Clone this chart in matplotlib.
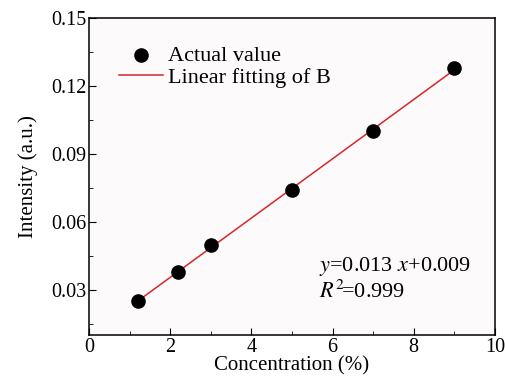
import numpy as np
import matplotlib
matplotlib.use("Agg")
import matplotlib.pyplot as plt
from matplotlib.ticker import MultipleLocator

concentration = [1.2, 2.2, 3.0, 5.0, 7.0, 9.0]
intensity = [0.025, 0.038, 0.050, 0.074, 0.100, 0.128]

plt.rcParams["font.family"] = ["Liberation Serif", "DejaVu Serif"]
plt.rcParams["mathtext.fontset"] = "stix"

fig = plt.figure(figsize=(5.06, 3.76), dpi=100)
ax = fig.add_axes([0.176, 0.108, 0.802, 0.844])
ax.set_facecolor("#fdfafb")

ax.scatter(concentration, intensity, s=90, color="black", zorder=3,
           label="Actual value")
slope, icpt = np.polyfit(concentration, intensity, 1)
xs = np.array([concentration[0], concentration[-1]])
ax.plot(xs, slope * xs + icpt, color="#d62728", lw=1.1, zorder=2,
        label="Linear fitting of B")

ax.set_xlim(0, 10)
ax.set_ylim(0.01, 0.15)
ax.set_xticks([0, 2, 4, 6, 8, 10])
ax.set_yticks([0.03, 0.06, 0.09, 0.12, 0.15])
ax.xaxis.set_minor_locator(MultipleLocator(1))
ax.yaxis.set_minor_locator(MultipleLocator(0.015))
ax.tick_params(which="both", direction="in", top=False, right=False,
               labelsize=14.5, pad=2)
ax.tick_params(which="major", length=5)
ax.tick_params(which="minor", length=3)
for s in ax.spines.values():
    s.set_linewidth(1.1)

ax.set_xlabel("Concentration (%)", fontsize=15, labelpad=-0.5)
ax.set_ylabel("Intensity (a.u.)", fontsize=15, labelpad=9)

ax.legend(loc="upper left", frameon=False, fontsize=16,
          bbox_to_anchor=(0.04, 0.955), handlelength=2.0,
          handletextpad=0.2, labelspacing=0.05, borderaxespad=0.2)

ax.text(0.567, 0.12, "$y$=0.013 $x$+0.009\n$R^{2}\\!$=0.999",
        transform=ax.transAxes, fontsize=16, linespacing=1.1)

fig.savefig("out.png", dpi=100)
